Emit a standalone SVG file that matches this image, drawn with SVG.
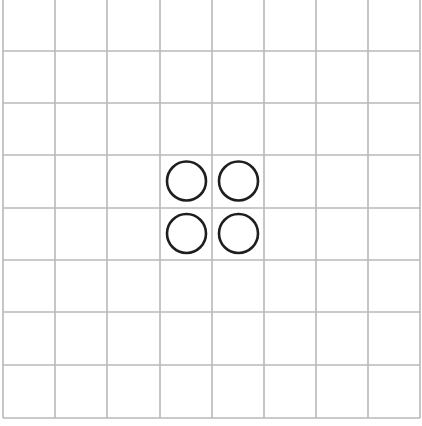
<svg xmlns="http://www.w3.org/2000/svg" width="422" height="426" viewBox="0 0 422 426">
<style>
.g{stroke:#b8b8b8;stroke-width:1.6;fill:none}
.c{stroke:#1e1e1e;stroke-width:2.6;fill:none}
</style>
<rect width="422" height="426" fill="#fff"/>
<g id="grid" class="g">
<line x1="3" y1="0" x2="3" y2="418"/>
<line x1="55" y1="0" x2="55" y2="418"/>
<line x1="107" y1="0" x2="107" y2="418"/>
<line x1="160" y1="0" x2="160" y2="418"/>
<line x1="212" y1="0" x2="212" y2="418"/>
<line x1="264" y1="0" x2="264" y2="418"/>
<line x1="316" y1="0" x2="316" y2="418"/>
<line x1="368" y1="0" x2="368" y2="418"/>
<line x1="420" y1="0" x2="420" y2="418"/>
<line x1="3" y1="51" x2="420" y2="51"/>
<line x1="3" y1="103" x2="420" y2="103"/>
<line x1="3" y1="155" x2="420" y2="155"/>
<line x1="3" y1="208" x2="420" y2="208"/>
<line x1="3" y1="260" x2="420" y2="260"/>
<line x1="3" y1="312" x2="420" y2="312"/>
<line x1="3" y1="365" x2="420" y2="365"/>
<line x1="3" y1="418" x2="420" y2="418"/>
</g>
<g id="circle-tl"><circle class="c" cx="186.5" cy="181" r="19.5"/></g>
<g id="circle-tr"><circle class="c" cx="238.5" cy="181" r="19.5"/></g>
<g id="circle-bl"><circle class="c" cx="186.5" cy="233.5" r="19.5"/></g>
<g id="circle-br"><circle class="c" cx="238.5" cy="233.5" r="19.5"/></g>
</svg>
